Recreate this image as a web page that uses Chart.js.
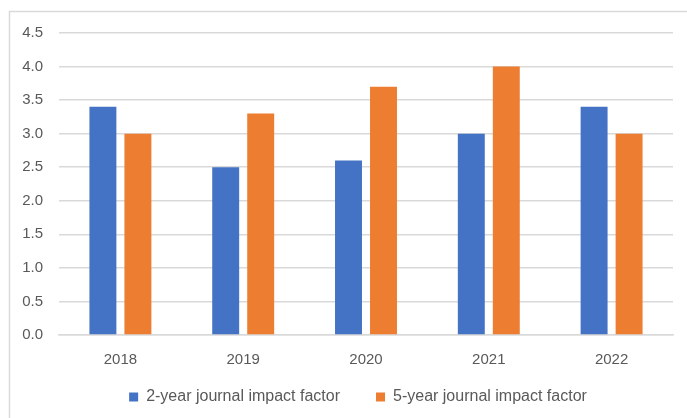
<!DOCTYPE html>
<html>
<head>
<meta charset="utf-8">
<script src="https://cdn.jsdelivr.net/npm/chart.js@4/dist/chart.umd.min.js"></script>
<style>
  html, body { margin: 0; padding: 0; background: #fff; }
  #wrap { position: relative; width: 687px; height: 418px; }
</style>
</head>
<body>
<div id="wrap"><canvas id="c" width="687" height="418"></canvas></div>
<script>
const years = ['2018', '2019', '2020', '2021', '2022'];
const twoYearIF = [3.4, 2.5, 2.6, 3.0, 3.4];
const fiveYearIF = [3.0, 3.3, 3.7, 4.0, 3.0];
const seriesNames = ['2-year journal impact factor', '5-year journal impact factor'];

const FONT = '"Liberation Sans", Arial, sans-serif';
const GRAY_TEXT = '#595959';
const GRID = '#d9d9d9';

// Thin frame along the top and left edges of the chart panel
const framePlugin = {
  id: 'frame',
  beforeDraw(chart) {
    const ctx = chart.ctx;
    ctx.save();
    ctx.fillStyle = '#fff';
    ctx.fillRect(0, 0, chart.width, chart.height);
    ctx.strokeStyle = GRID;
    ctx.lineWidth = 1.5;
    ctx.beginPath();
    ctx.moveTo(9.5, chart.height);
    ctx.lineTo(9.5, 11.5);
    ctx.lineTo(chart.width, 11.5);
    ctx.stroke();
    ctx.restore();
  }
};

// Tuck the legend row up under the category labels and centre it on the panel
const legendPlacement = {
  id: 'legendPlacement',
  afterLayout(chart) {
    const lg = chart.legend;
    if (!lg) return;
    lg.left = 43;
    lg.top = 353;
  }
};

new Chart(document.getElementById('c'), {
  type: 'bar',
  data: {
    labels: years,
    datasets: [
      { label: seriesNames[0], data: twoYearIF, backgroundColor: '#4472C4' },
      { label: seriesNames[1], data: fiveYearIF, backgroundColor: '#ED7D31' }
    ]
  },
  options: {
    responsive: false,
    animation: false,
    devicePixelRatio: 1,
    layout: { padding: { left: 0, right: 14, top: 33, bottom: 0 } },
    datasets: { bar: { categoryPercentage: 0.57, barPercentage: 0.77 } },
    plugins: {
      legend: {
        position: 'bottom',
        maxHeight: 43,
        labels: {
          boxWidth: 9,
          boxHeight: 9,
          padding: 36,
          color: GRAY_TEXT,
          font: { family: FONT, size: 16 }
        }
      },
      tooltip: { enabled: false }
    },
    scales: {
      x: {
        grid: { display: false, drawTicks: false },
        border: { display: true, color: GRID, width: 1.5 },
        ticks: { color: GRAY_TEXT, padding: 16, font: { family: FONT, size: 15 } },
        afterFit(scale) { scale.height = 40; }
      },
      y: {
        min: 0,
        max: 4.5,
        grid: { color: GRID, lineWidth: 1.5, drawTicks: false },
        border: { display: false },
        ticks: {
          stepSize: 0.5,
          padding: 16,
          color: GRAY_TEXT,
          font: { family: FONT, size: 15 },
          callback: v => Number(v).toFixed(1)
        },
        afterFit(scale) { scale.width = 59; }
      }
    }
  },
  plugins: [framePlugin, legendPlacement]
});
</script>
</body>
</html>
